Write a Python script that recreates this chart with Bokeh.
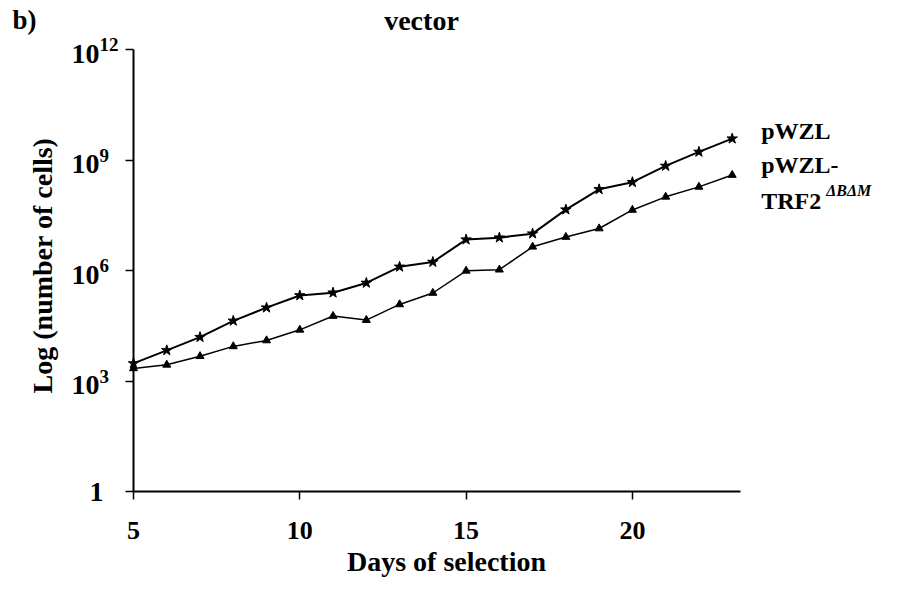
import math
from bokeh.plotting import figure
from bokeh.models import Label, FixedTicker, Range1d
from bokeh.embed import file_html
from bokeh.resources import INLINE

# ---- data ----
days = [5, 6, 7, 8, 9, 10, 11, 12, 13, 14, 15, 16, 17, 18, 19, 20, 21, 22, 23]
pwzl = [3.0e3, 6.8e3, 1.55e4, 4.3e4, 9.8e4, 2.1e5, 2.5e5, 4.6e5, 1.26e6, 1.7e6,
        6.9e6, 7.8e6, 1.0e7, 4.5e7, 1.6e8, 2.5e8, 6.9e8, 1.66e9, 3.8e9]
pwzl_trf2 = [2.2e3, 2.75e3, 4.7e3, 8.7e3, 1.26e4, 2.45e4, 5.8e4, 4.5e4, 1.2e5, 2.45e5,
             9.8e5, 1.05e6, 4.4e6, 8.1e6, 1.38e7, 4.4e7, 1.0e8, 1.86e8, 3.9e8]
x_ticks = [5, 10, 15, 20]
x_tick_labels = ["5", "10", "15", "20"]
y_ticks = [1, 1e3, 1e6, 1e9, 1e12]
y_tick_exponents = ["", "3", "6", "9", "12"]
series_names = ["pWZL", "pWZL-", "TRF2"]
series_sup = "\u0394B\u0394M"
title_text = "vector"
panel_text = "b)"
x_title = "Days of selection"
y_title = "Log (number of cells)"

FONT = "Liberation Serif"

# ---- layout (pixels in the figure) ----
W, H = 888, 577
TOP_B, RIGHT_B = 8, 8
FW, FH = W - RIGHT_B, H - TOP_B          # frame spans the rest of the canvas
AX_X0, AX_X1 = 133, 740                  # pixel columns of x = 5 and x = 23.25
X_LO, X_HI = 5, 23.25
AX_Y_TOP, AX_Y_BOT = 49, 491             # pixel rows of y = 1e12 and y = 1
DEC_LO, DEC_HI = 0, 12

ppx = (AX_X1 - AX_X0) / (X_HI - X_LO)
x_start = X_LO - AX_X0 / ppx
x_end = X_LO + (FW - AX_X0) / ppx
ppd = (AX_Y_BOT - AX_Y_TOP) / (DEC_HI - DEC_LO)
y_end = 10 ** (DEC_HI + (AX_Y_TOP - TOP_B) / ppd)
y_start = 10 ** (DEC_LO - (H - AX_Y_BOT) / ppd)

p = figure(frame_width=FW, frame_height=FH, output_backend="svg", toolbar_location=None,
           title=None, y_axis_type="log",
           x_axis_location="above", y_axis_location="right",
           x_range=Range1d(x_start, x_end), y_range=Range1d(y_start, y_end),
           min_border_left=0, min_border_bottom=0,
           min_border_top=TOP_B, min_border_right=RIGHT_B)
p.outline_line_color = None
p.xgrid.visible = False
p.ygrid.visible = False
p.background_fill_color = "white"
p.border_fill_color = "white"

xa = p.xaxis[0]
ya = p.yaxis[0]
ya.fixed_location = X_LO
xa.fixed_location = y_ticks[0]
xa.bounds = (X_LO, X_HI)
ya.bounds = (y_ticks[0], y_ticks[-1])
for ax in (xa, ya):
    ax.axis_line_width = 2
    ax.axis_line_color = "black"
    ax.major_tick_line_width = 1.5
    ax.major_tick_line_color = "black"
    ax.major_tick_out = 0
    ax.major_tick_in = 8
    ax.minor_tick_line_color = None
    ax.major_label_text_font_size = "1px"
    ax.major_label_text_color = None
    ax.major_label_standoff = 0
xa.ticker = FixedTicker(ticks=x_ticks)
ya.ticker = FixedTicker(ticks=y_ticks)

# lines
p.line(days, pwzl, line_color="black", line_width=2)
p.scatter(days, pwzl, marker="star", size=11, fill_color="black", line_color="black")
p.line(days, pwzl_trf2, line_color="black", line_width=1.5)
p.scatter(days, pwzl_trf2, marker="triangle", size=8, fill_color="black", line_color="black")


def lab(text, x, y, xo=0, yo=0, size="26px", align="left", baseline="alphabetic",
        style="bold", angle=0):
    p.add_layout(Label(x=x, y=y, x_offset=xo, y_offset=yo, text=text,
                       text_font=FONT, text_font_style=style, text_font_size=size,
                       text_color="black", text_align=align, text_baseline=baseline,
                       angle=angle))


# y tick labels with superscripts
for t, e in zip(y_ticks, y_tick_exponents):
    if e == "":
        lab(str(int(t)), X_LO, t, xo=-30, yo=0, size="28px", align="right")
    else:
        lab("10", X_LO, t, xo=-34, yo=-4, size="28px", align="right")
        lab(e, X_LO, t, xo=-34, yo=5, size="19px", align="left")

# x tick labels
for t, s in zip(x_ticks, x_tick_labels):
    lab(s, t, y_ticks[0], yo=-39, size="26px", align="center")

# titles
ytop = y_ticks[-1]
lab(panel_text, X_LO, ytop, xo=-121, yo=30, size="27px")
lab(title_text, X_LO, ytop, xo=288, yo=29, size="28px", align="center")
lab(x_title, X_LO, y_ticks[0], xo=313, yo=-70, size="28px", align="center")
lab(y_title, X_LO, 1e6, xo=-91, yo=5, size="28px", align="center", baseline="middle",
    angle=math.pi / 2)

# series labels
xe = days[-1]
lab(series_names[0], xe, ytop, xo=29, yo=-81, size="24px")
lab(series_names[1], xe, ytop, xo=29, yo=-115, size="24px")
lab(series_names[2], xe, ytop, xo=29, yo=-151, size="24px")
lab(series_sup, xe, ytop, xo=94, yo=-141, size="16px", style="bold italic")

open("out.html", "w").write(file_html(p, INLINE))
